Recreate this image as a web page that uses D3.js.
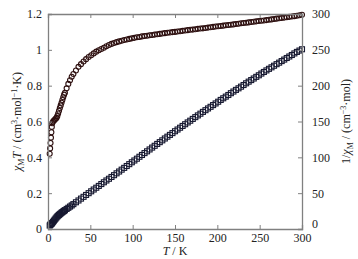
<!DOCTYPE html>
<html><head><meta charset="utf-8">
<script src="https://cdn.jsdelivr.net/npm/d3@7"></script>
<style>body{margin:0;background:#fff}svg{display:block}text{font-family:"Liberation Serif","Times New Roman",serif;fill:#222}</style>
</head><body><svg id="c" width="358" height="259"></svg>
<script>
const temps = [2,2.5,3,3.5,4,4.5,5,6,7,8,9,10,11,12,13,14,15,16,17,18,19,20,22,24,26,28,30,33,36,39,42,45,48,51,54,57,60,63,66,69,72,75,78,81,84,87,90,93,96,99,102,105,108,111,114,117,120,123,126,129,132,135,138,141,144,147,150,153,156,159,162,165,168,171,174,177,180,183,186,189,192,195,198,201,204,207,210,213,216,219,222,225,228,231,234,237,240,243,246,249,252,255,258,261,264,267,270,273,276,279,282,285,288,291,294,297,300];
const chiT = [0.42,0.45,0.48,0.51,0.54,0.57,0.59,0.60,0.605,0.61,0.615,0.62,0.63,0.645,0.66,0.675,0.69,0.705,0.72,0.735,0.75,0.76,0.785,0.81,0.83,0.85,0.865,0.885,0.905,0.92,0.935,0.948,0.96,0.97,0.98,0.99,0.998,1.005,1.012,1.02,1.027,1.033,1.038,1.043,1.047,1.051,1.055,1.058,1.061,1.064,1.067,1.07,1.072,1.075,1.077,1.079,1.081,1.083,1.085,1.087,1.089,1.091,1.093,1.095,1.097,1.099,1.1,1.102,1.104,1.106,1.108,1.11,1.112,1.113,1.115,1.117,1.119,1.12,1.122,1.124,1.126,1.128,1.13,1.132,1.133,1.135,1.137,1.139,1.14,1.142,1.144,1.146,1.148,1.15,1.151,1.153,1.155,1.157,1.159,1.161,1.162,1.164,1.166,1.168,1.17,1.172,1.174,1.176,1.178,1.18,1.182,1.184,1.186,1.188,1.19,1.193,1.196];
const invChi = [4.8,5.6,6.3,6.9,7.4,7.9,8.5,10.0,11.6,13.1,14.6,16.1,17.5,18.6,19.7,20.7,21.7,22.7,23.6,24.5,25.3,26.3,28.0,29.6,31.3,32.9,34.7,37.3,39.8,42.4,44.9,47.5,50.0,52.6,55.1,57.6,60.1,62.7,65.2,67.7,70.1,72.6,75.1,77.7,80.2,82.8,85.3,87.9,90.5,93.1,95.6,98.1,100.8,103.3,105.9,108.4,111.0,113.6,116.1,118.7,121.2,123.7,126.3,128.8,131.3,133.8,136.4,138.8,141.3,143.8,146.2,148.7,151.1,153.6,156.1,158.5,160.9,163.4,165.8,168.2,170.5,172.9,175.2,177.6,180.1,182.4,184.7,187.0,189.5,191.8,194.1,196.3,198.6,200.9,203.3,205.6,207.8,210.0,212.3,214.5,216.9,219.1,221.3,223.5,225.6,227.8,230.0,232.1,234.3,236.4,238.6,240.7,242.8,245.0,247.1,249.0,250.8];
const xTicks = [0,50,100,150,200,250,300];
const yLeftTicks = [0,0.2,0.4,0.6,0.8,1,1.2];
const yRightTicks = [0,50,100,150,200,250,300];

const svg = d3.select("#c");
const L=48,R=302,T=14,B=229;
const x = d3.scaleLinear().domain([0,300]).range([L,R]);
const yl = d3.scaleLinear().domain([0,1.2]).range([B,T]);
const yr = d3.scaleLinear().domain([0,300]).range([B,T]);
const axisCol="#808080";

// data: squares
const sq = 5;
svg.append("g").selectAll("rect").data(temps).join("rect")
  .attr("x",(d,i)=>x(d)-sq/2).attr("y",(d,i)=>yr(invChi[i])-sq/2)
  .attr("width",sq).attr("height",sq)
  .attr("fill","none").attr("stroke","#161830").attr("stroke-width",1.1);
// circles
svg.append("g").selectAll("circle").data(temps).join("circle")
  .attr("cx",d=>x(d)).attr("cy",(d,i)=>yl(chiT[i])).attr("r",2.5)
  .attr("fill","none").attr("stroke","#2e1010").attr("stroke-width",1.1);

// axes
const fs = 12;
const gB = svg.append("g").attr("transform",`translate(0,${B})`).call(d3.axisBottom(x).tickValues(xTicks).tickSize(-4).tickPadding(4).tickFormat(d3.format("d")));
const gT = svg.append("g").attr("transform",`translate(0,${T})`).call(d3.axisTop(x).tickValues(xTicks).tickSize(-4).tickFormat(""));
const gL = svg.append("g").attr("transform",`translate(${L},0)`).call(d3.axisLeft(yl).tickValues(yLeftTicks).tickSize(-4).tickPadding(6).tickFormat(d=>String(d)));
const gR = svg.append("g").attr("transform",`translate(${R},0)`).call(d3.axisRight(yr).tickValues(yRightTicks).tickSize(-4).tickPadding(10).tickFormat(d3.format("d")));
[gB,gT,gL,gR].forEach(g=>{
  g.selectAll("path").attr("stroke",axisCol).attr("stroke-width",1.3);
  g.selectAll("line").attr("stroke",axisCol).attr("stroke-width",1);
  g.selectAll("text").attr("font-size",fs).attr("font-family","Liberation Serif").attr("fill","#222");
});
gR.selectAll("text").filter(d=>d===0).attr("dy","-0.1em");

// titles
const xt = svg.append("text").attr("x",(L+R)/2).attr("y",255).attr("text-anchor","middle").attr("font-size",fs);
xt.append("tspan").attr("font-style","italic").text("T");
xt.append("tspan").text(" / K");

const lt = svg.append("text").attr("transform",`translate(21,${(T+B)/2}) rotate(-90)`).attr("text-anchor","middle").attr("font-size",fs);
lt.append("tspan").attr("font-style","italic").text("χ");
lt.append("tspan").attr("font-size",8).attr("dy",3).text("M");
lt.append("tspan").attr("font-style","italic").attr("dy",-3).text("T");
lt.append("tspan").text(" / (cm");
lt.append("tspan").attr("font-size",8).attr("dy",-4).text("3");
lt.append("tspan").attr("dy",4).text("·mol");
lt.append("tspan").attr("font-size",8).attr("dy",-4).text("−1");
lt.append("tspan").attr("dy",4).text("·K)");

const rt = svg.append("text").attr("transform",`translate(350,${(T+B)/2}) rotate(-90)`).attr("text-anchor","middle").attr("font-size",fs);
rt.append("tspan").text("1/");
rt.append("tspan").attr("font-style","italic").text("χ");
rt.append("tspan").attr("font-size",8).attr("dy",3).text("M");
rt.append("tspan").attr("dy",-3).text(" / (cm");
rt.append("tspan").attr("font-size",8).attr("dy",-4).text("−3");
rt.append("tspan").attr("dy",4).text("·mol)");
</script></body></html>
